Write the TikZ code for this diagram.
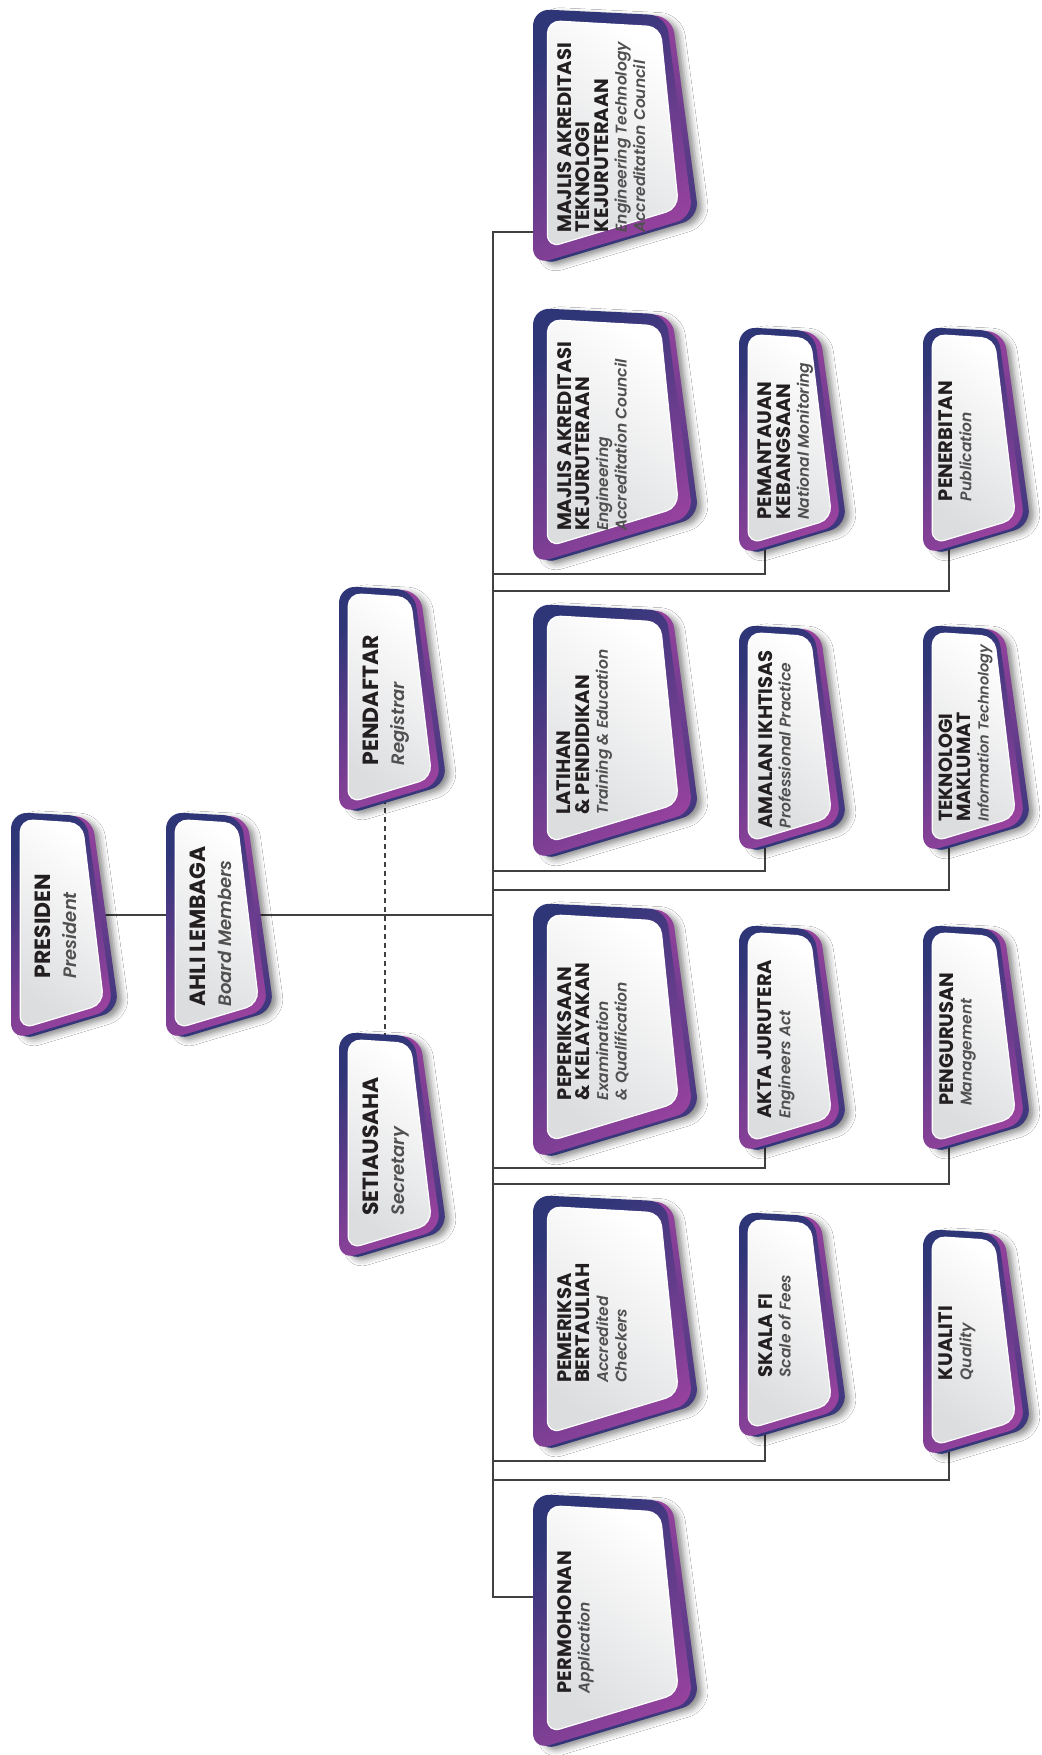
\documentclass[tikz,border=0pt]{standalone}
\usepackage{fontspec}
\setmainfont{Poppins}
\newfontfamily\lightit{Poppins}[UprightFont={* Light Italic}]
\usetikzlibrary{positioning,backgrounds,shadows.blur}

\definecolor{navy}{RGB}{46,54,120}
\definecolor{plum}{RGB}{152,66,158}
\definecolor{ink}{RGB}{35,31,32}
\definecolor{subgrey}{RGB}{80,80,80}
\definecolor{panelgrey}{RGB}{220,221,223}
\definecolor{wire}{RGB}{64,64,64}

\newcommand{\engsize}{15.5}
\newcommand{\engl}[1]{{\lightit\fontsize{\engsize}{18}\selectfont\color{subgrey}#1}}

\tikzset{
  cardback/.style={top color=plum, bottom color=navy,
    blur shadow={shadow xshift=5pt, shadow yshift=-3pt, shadow blur radius=6pt, shadow opacity=45}},
  cardfront/.style={top color=navy, bottom color=plum, shading angle=35},
  cardpanel/.style={top color=white, bottom color=panelgrey, shading angle=-35, draw=white, line width=1.2pt},
  cardtext/.style={rotate=90, anchor=north, align=left, inner sep=0pt, text=ink,
    font=\fontsize{19.5}{18.5}\selectfont\bfseries},
  toptext/.style={font=\fontsize{22}{26}\selectfont\bfseries\def\engsize{18}},
  % shifts act in the turned frame: yshift moves left, xshift moves up
  midtext/.style={yshift=5pt},
  edgetext/.style={yshift=8pt},
  snugtext/.style={edgetext, xshift=6pt, font=\fontsize{19}{18}\selectfont\bfseries\def\engsize{14.5}},
  link/.style={draw=wire, line width=1.6pt}
}

% #1 text style, #2 name, #3 x, #4 y (top left), #5 width, #6 height, #7 text
\newcommand{\orgcard}[7][]{%
  \pgfmathsetmacro\cb{0.09*#5}%
  \pgfmathsetmacro\ctr{#5-27}%
  \pgfmathsetmacro\ctt{0.04*#5}%
  \pgfmathsetmacro\cd{#6-0.3*#5}%
  \begin{scope}[shift={(#3,#4)}, rounded corners=17pt]
    \path[cardback] (6,1) -- (\ctr+6,\ctt+1) -- (#5+6,\cd+1) -- (6,#6+1) -- cycle;
    \path[cardfront] (0,0) -- (\ctr,\ctt) -- (#5,\cd) -- (0,#6) -- cycle;
    \path[cardpanel, rounded corners=13pt] (\cb,0.8*\cb) -- (\ctr-0.4*\cb,\ctt+0.8*\cb)
      -- (#5-\cb,\cd-0.6*\cb) -- (\cb,#6-1.2*\cb) -- cycle;
  \end{scope}
  \node[minimum width=#5pt, minimum height=#6pt, inner sep=0pt, anchor=north west] (#2) at (#3,#4) {};
  \node[cardtext,#1] (#2-text) at ([xshift=24pt]#2.west) {#7};
}

\begin{document}
\begin{tikzpicture}[x=1pt,y=-1pt]
\useasboundingbox (0,0) rectangle (1041,1755);

% top of the chart
\orgcard[toptext]{pres}{11}{812}{102}{228}{PRESIDEN\\\engl{President}}
\orgcard[toptext]{board}{166}{812}{102}{228}{AHLI LEMBAGA\\\engl{Board Members}}
\orgcard[toptext]{reg}{339}{586}{102}{228}{PENDAFTAR\\\engl{Registrar}}
\orgcard[toptext]{sec}{339}{1032}{102}{228}{SETIAUSAHA\\\engl{Secretary}}

% main units
\orgcard{etac}{533}{9}{160}{256}{MAJLIS AKREDITASI\\TEKNOLOGI\\KEJURUTERAAN\\\engl{Engineering Technology}\\\engl{Accreditation Council}}
\orgcard{eac}{533}{308}{160}{256}{MAJLIS AKREDITASI\\KEJURUTERAAN\\\engl{Engineering}\\\engl{Accreditation Council}}
\orgcard{train}{533}{604}{160}{256}{LATIHAN\\\& PENDIDIKAN\\\engl{Training \& Education}}
\orgcard{exam}{533}{903}{160}{256}{PEPERIKSAAN\\\& KELAYAKAN\\\engl{Examination}\\\engl{\& Qualification}}
\orgcard{check}{533}{1195}{160}{256}{PEMERIKSA\\BERTAULIAH\\\engl{Accredited}\\\engl{Checkers}}
\orgcard{appl}{533}{1494}{160}{256}{PERMOHONAN\\\engl{Application}}

% second column
\orgcard[midtext]{natmon}{739}{327}{102}{228}{PEMANTAUAN\\KEBANGSAAN\\\engl{National Monitoring}}
\orgcard[midtext]{ethics}{739}{625}{102}{228}{AMALAN IKHTISAS\\\engl{Professional Practice}}
\orgcard[midtext]{act}{739}{925}{102}{228}{AKTA JURUTERA\\\engl{Engineers Act}}
\orgcard[midtext]{fees}{739}{1212}{102}{228}{SKALA FI\\\engl{Scale of Fees}}

% third column
\orgcard[edgetext]{publ}{923}{327}{102}{228}{PENERBITAN\\\engl{Publication}}
\orgcard[snugtext]{ict}{923}{625}{102}{228}{TEKNOLOGI\\MAKLUMAT\\\engl{Information Technology}}
\orgcard[edgetext]{mgmt}{923}{925}{102}{228}{PENGURUSAN\\\engl{Management}}
\orgcard[edgetext]{qual}{923}{1229}{102}{228}{KUALITI\\\engl{Quality}}

\begin{scope}[on background layer]
\fill[white] (0,0) rectangle (1041,1755);
\coordinate (hub) at (493,915);
\coordinate (trunktop) at (493,232);
\coordinate (trunkbot) at (493,1597);
\draw[link] (pres.center |- hub) -- (hub);
\draw[link] (etac.center |- trunktop) -- (trunktop) -- (trunkbot) -- (appl.center |- trunkbot);
\foreach \nd/\ly in {natmon/574, publ/591, ethics/871, ict/890, act/1168, mgmt/1184, fees/1461, qual/1480}{
  \draw[link] (hub |- 0,\ly) -| ([xshift=-25pt]\nd.center);
}
\draw[link, line width=1.5pt, dash pattern=on 5pt off 4pt] ([xshift=-5pt]reg.center) -- ([xshift=-5pt]sec.center);
\end{scope}
\end{tikzpicture}
\end{document}
